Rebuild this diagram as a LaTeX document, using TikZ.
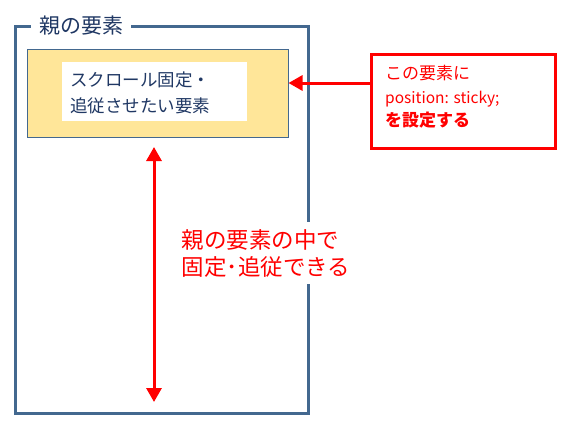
\documentclass[tikz,border=0pt]{standalone}
\usepackage{fontspec}
\setmainfont{Noto Sans CJK JP}
\usetikzlibrary{arrows.meta}
\definecolor{frameblue}{HTML}{43688F}
\definecolor{boxyellow}{HTML}{FFE699}
\definecolor{textnavy}{HTML}{203864}
\definecolor{myred}{HTML}{FF0000}
\tikzset{
  parentbox/.style={draw=frameblue, line width=3pt},
  childbox/.style={draw=frameblue, line width=1pt, fill=boxyellow},
  whitelabel/.style={fill=white, inner sep=0pt, align=left},
  notebox/.style={draw=myred, line width=3pt, fill=white},
  redarrow/.style={draw=myred, line width=3pt, -{Triangle[length=14pt,width=15pt]}},
  redarrows/.style={draw=myred, line width=3pt, {Triangle[length=14pt,width=15pt]}-{Triangle[length=14pt,width=15pt]}},
}
\begin{document}
\begin{tikzpicture}[x=1pt,y=-1pt]
\useasboundingbox (0,0) rectangle (583,428);
% parent element
\draw[parentbox] (15,27) rectangle (308,413);
\node[whitelabel, text=textnavy, font=\fontsize{21}{24}\selectfont, inner xsep=8pt, inner ysep=2pt] (plabel) at (81,26) {親の要素};
% child element
\node[childbox, minimum width=261pt, minimum height=87pt, inner sep=0pt] (child) at (157.5,93.5) {};
\node[whitelabel, minimum width=185pt, minimum height=59pt, anchor=north west] (ctext) at (62,62) {};
\node[text=textnavy, font=\fontsize{17.5}{26}\selectfont, align=left, anchor=west, inner sep=0pt] (ctextin) at (70,92.5) {スクロール固定・\\追従させたい要素};
% note box
\node[notebox, minimum width=184pt, minimum height=93pt, inner sep=0pt] (note) at (463,101.5) {};
\node[text=myred, font=\fontsize{17}{23.5}\selectfont, align=left, anchor=west, inner sep=0pt] (ntext) at (385,97) {この要素に\\{\fontsize{15.5}{23.5}\selectfont position: sticky;}\\\textbf{を設定する}};
\coordinate (notein) at (note.west |- 0,83);
\coordinate (childin) at (child.east |- 0,83);
\draw[redarrow] (notein) -- (childin);
% vertical arrow
\coordinate (vtop) at (154,147);
\coordinate (vbot) at (154,402);
\draw[redarrows] (vtop) -- (vbot);
\node[whitelabel, text=myred, font=\fontsize{22.5}{27}\selectfont, inner xsep=3pt, inner ysep=7pt] (rtext) at (266,253) {親の要素の中で\\固定･追従できる};
\end{tikzpicture}
\end{document}
